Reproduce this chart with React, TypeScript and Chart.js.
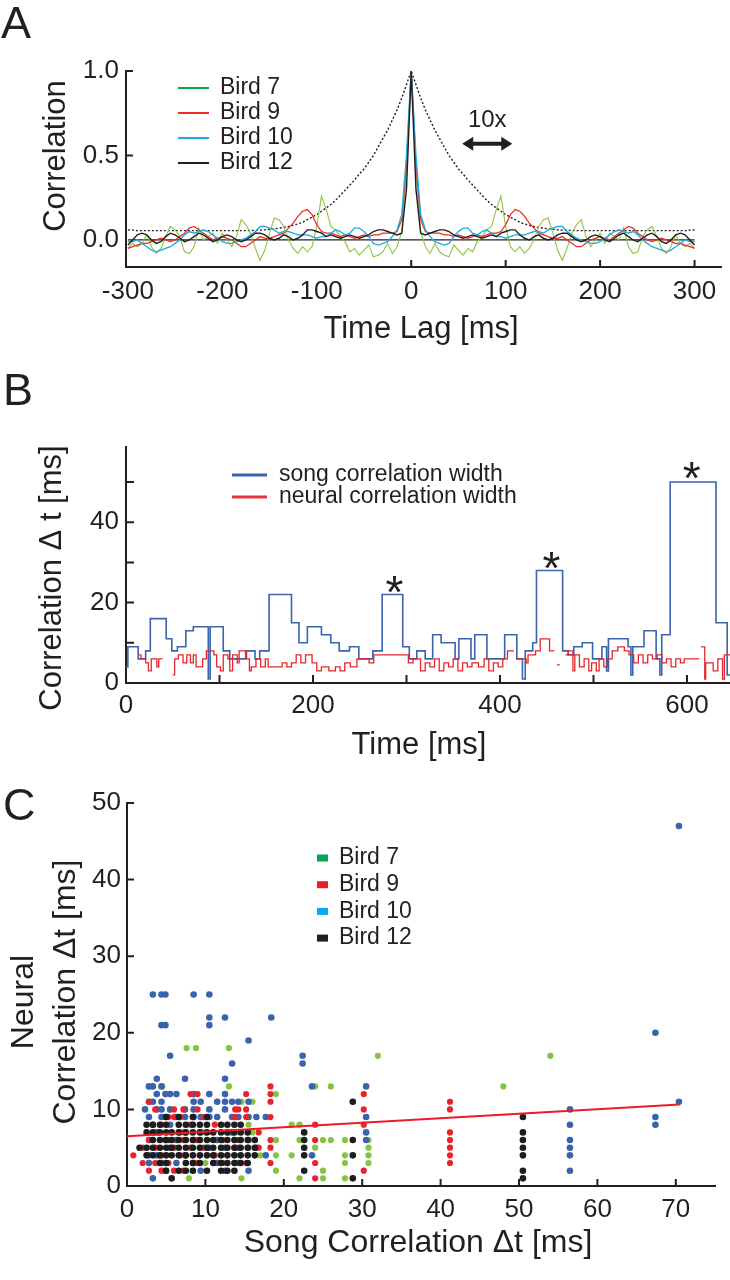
import React, { useEffect, useRef } from 'react';
import { Chart, registerables } from 'chart.js';

Chart.register(...registerables);

const FONT = '"Liberation Sans", Arial, Helvetica, sans-serif';
const INK = '#231f20';

// ---------------- Panel A : autocorrelation (symmetric, positive lags read) ----------------
const LAGS = [0, 5, 10, 15, 20, 25, 30, 35, 40, 45, 50, 55, 60, 65, 70, 75, 80, 85, 90, 95,
  100, 105, 110, 115, 120, 125, 130, 135, 140, 145, 150, 155, 160, 165, 170, 175, 180, 185, 190, 195,
  200, 205, 210, 215, 220, 225, 230, 235, 240, 245, 250, 255, 260, 265, 270, 275, 280, 285, 290, 295, 300];

const BIRD7_ACF = [1.0, 0.4, 0.05, -0.04, -0.08, -0.02, -0.07, -0.09, -0.10, -0.03,
  -0.06, -0.09, -0.05, -0.07, -0.01, 0.02, 0.06, 0.08, 0.18, 0.26,
  0.08, -0.04, -0.07, -0.04, -0.08, -0.05, 0.0, 0.08, 0.12, 0.13,
  0.04, -0.06, -0.12, -0.05, 0.04, 0.09, 0.12, 0.02, -0.04, 0.0,
  0.04, -0.02, 0.04, 0.02, 0.0, 0.07, -0.04, -0.08, -0.07, 0.02,
  0.06, 0.08, 0.02, -0.05, -0.08, -0.04, 0.03, -0.02, -0.04, -0.02,
  -0.05];

const BIRD9_ACF = [1.0, 0.45, 0.12, 0.05, 0.04, 0.04, 0.04, 0.03, 0.03, 0.02,
  0.03, 0.02, 0.01, 0.02, 0.03, 0.02, 0.03, 0.04, 0.04, 0.05,
  0.09, 0.15, 0.18, 0.17, 0.14, 0.10, 0.07, 0.04, 0.03, 0.02,
  0.01, 0.01, 0.02, 0.0, -0.02, -0.04, -0.04, -0.02, 0.0, 0.01,
  0.02, 0.01, 0.0, 0.02, 0.04, 0.06, 0.08, 0.07, 0.04, 0.02,
  0.0, -0.01, 0.0, 0.01, 0.0, -0.01, -0.02, -0.02, -0.03, -0.04,
  -0.05];

const BIRD10_ACF = [1.0, 0.5, 0.15, 0.06, 0.02, -0.01, -0.02, -0.03, -0.02, 0.02,
  0.05, 0.07, 0.07, 0.04, 0.03, 0.05, 0.06, 0.04, 0.02, 0.02,
  0.01, 0.02, 0.03, 0.03, 0.03, 0.04, 0.05, 0.05, 0.04, 0.06,
  0.07, 0.08, 0.08, 0.05, 0.03, 0.01, 0.0, -0.01, -0.02, -0.02,
  -0.01, 0.01, 0.03, 0.05, 0.06, 0.05, 0.04, 0.05, 0.03, 0.0,
  -0.02, -0.04, -0.05, -0.06, -0.07, -0.06, -0.04, -0.02, 0.0, -0.01,
  -0.01];

const BIRD12_ACF = [1.0, 0.3, 0.04, 0.03, 0.04, 0.05, 0.06, 0.06, 0.05, 0.03,
  0.02, 0.01, 0.02, 0.03, 0.02, 0.01, 0.02, 0.03, 0.02, 0.04,
  0.05, 0.06, 0.06, 0.03, 0.01, 0.0, 0.02, 0.03, 0.01, 0.0,
  0.01, 0.03, 0.04, 0.04, 0.02, 0.0, -0.01, 0.0, 0.02, 0.03,
  0.02, 0.0, -0.01, 0.01, 0.03, 0.04, 0.02, 0.0, -0.01, 0.01,
  0.03, 0.04, 0.02, -0.01, -0.02, 0.0, 0.03, 0.04, 0.03, 0.0,
  -0.03];

// Bird 12 trace stretched 10x in time (dotted)
const BIRD12_STRETCHED = [1.0, 0.92, 0.84, 0.77, 0.71, 0.65, 0.60, 0.55, 0.50, 0.46,
  0.42, 0.39, 0.355, 0.325, 0.295, 0.265, 0.235, 0.21, 0.19, 0.17,
  0.15, 0.135, 0.12, 0.105, 0.095, 0.087, 0.08, 0.074, 0.07, 0.066,
  0.063, 0.06, 0.058, 0.057, 0.056, 0.055, 0.055, 0.055, 0.055, 0.055,
  0.055, 0.055, 0.055, 0.055, 0.055, 0.055, 0.055, 0.055, 0.055, 0.055,
  0.055, 0.055, 0.055, 0.055, 0.055, 0.055, 0.055, 0.055, 0.055, 0.058,
  0.06];

const ZERO_LINE_X = [-300, 300];
const A_X_TICKS = [-300, -200, -100, 0, 100, 200, 300];
const A_X_MARKS = [0, 100, 200, 300];
const A_Y_TICKS = [0, 0.5, 1.0];
const A_Y_MARKS = [0.5, 1.0];
const A_LEGEND = ['Bird 7', 'Bird 9', 'Bird 10', 'Bird 12'];
const ARROW_SPAN = [54, 107];
const ARROW_LEVEL = 0.57;

// ---------------- Panel B : step traces [start time ms, width ms] ----------------
const SONG_STEPS: [number, number][] = [
  [0, 4], [2, 9], [13, 6], [21, 8], [26, 16], [43, 11], [49, 8], [55, 9], [64, 13], [72, 14],
  [88, 1], [90, 14], [104, 8], [111, 6], [128, 8], [138, 6], [143, 8], [153, 22], [177, 15], [185, 10],
  [194, 14], [209, 12], [219, 10], [228, 8], [239, 9], [249, 6], [264, 8], [274, 22], [296, 9], [303, 6],
  [311, 8], [320, 6], [328, 12], [337, 10], [352, 6], [356, 11], [369, 6], [373, 12], [386, 6], [405, 12],
  [418, 6], [424, 1], [427, 8], [435, 10], [439, 28], [467, 8], [473, 7], [479, 9], [488, 10], [499, 6],
  [509, 9], [514, 3], [516, 11], [524, 11], [537, 9], [540, 2], [542, 9], [554, 13], [567, 6], [571, 2],
  [573, 12], [582, 50], [631, 15], [643, 2], [647, 2]];

const NEURAL_STEPS: [number, number | null][] = [
  [14, 7], [16, 6], [21, 5], [24, 3], [27, 6], [33, 4], [35, 6], [39, null], [50, 2], [52, 6],
  [56, 7], [61, 5], [65, 7], [69, 5], [72, 7], [75, 4], [82, 6], [86, 8], [94, 7], [97, 4],
  [101, 3], [104, 7], [109, 6], [111, 3], [114, 7], [119, 5], [121, 8], [129, 6], [132, 3], [134, 4],
  [139, 6], [144, 4], [149, 6], [152, 4], [167, 5], [172, 4], [177, 5], [182, 7], [187, 5], [192, 7],
  [199, 5], [204, 3], [209, 4], [217, 3], [224, 4], [229, 3], [234, 5], [240, 4], [247, 6], [260, 5],
  [265, 7], [292, 7], [302, 5], [307, 6], [315, 3], [320, 5], [325, 4], [330, 6], [335, 3], [340, 5],
  [345, 4], [350, 6], [355, 3], [360, 5], [365, 4], [370, 5], [377, 4], [383, 6], [388, 3], [393, 5],
  [398, 4], [403, 6], [408, 8], [415, null], [418, 6], [428, 5], [430, 7], [438, 8], [443, 11], [453, 8],
  [458, null], [461, 4.5], [464, null], [470, 7], [473, 8], [478, 3], [480, 7], [485, 4], [490, 6], [495, 3],
  [498, 5], [503, 3], [506, 6], [511, 4], [515, 6], [520, 8], [526, 9], [533, 8], [538, 7], [543, 5],
  [548, 7], [553, 5], [558, 7], [563, 6], [568, 7], [573, 5], [578, 6], [583, 4], [588, 6], [593, 5],
  [597, 6], [613, null], [615, 9], [619, 1], [620, 5], [628, 3], [633, 6], [638, 1], [640, 7], [647, 7]];

const ASTERISK_T = [287, 455, 605];
const ASTERISK_W = [25.2, 31.2, 53.4];
const B_X_TICKS = [0, 100, 200, 300, 400, 500, 600];
const B_X_MARKS = [100, 200, 300, 400, 500, 600];
const B_Y_TICKS = [0, 10, 20, 30, 40, 50];
const B_Y_MARKS = [10, 20, 30, 40, 50];
const B_LEGEND = ['song correlation width', 'neural correlation width'];

// ---------------- Panel C : scatter columns [song Δt, neural Δt values] ----------------
const BIRD7_COLS: [number, number[]][] = [
  [3.2, [13]], [4.5, [13, 4]], [5.5, [10]], [7.6, [18]], [7.9, [1]], [8.8, [18]], [10.0, [7, 3]],
  [11.5, [6, 3]], [13.0, [18, 13, 7]], [14.6, [11, 1]], [15.5, [8, 5]], [16.0, [11, 7]], [17.0, [4]],
  [19.0, [12, 6, 4, 2]], [21.0, [8, 4]], [22.0, [8, 6, 1]], [24.0, [13, 5]], [25.0, [6, 2, 1]],
  [26.0, [13, 6]], [27.8, [6, 4, 3, 1]], [30.8, [6, 5, 4, 3]], [32.0, [17]], [48.0, [13]], [54.0, [17]]];

const BIRD9_COLS: [number, number[]][] = [
  [0.8, [4]], [2.0, [5, 3]], [2.8, [11, 6, 2]], [3.6, [10, 5, 3]], [4.4, [8, 4, 2]], [5.3, [9, 6, 3]],
  [6.0, [10, 9, 5, 2]], [6.8, [9, 7, 4]], [7.2, [10, 6, 2]], [8.1, [12, 8, 5]], [9.0, [12, 10, 6, 3]],
  [9.8, [9, 5]], [11.2, [8, 4]], [12.2, [6, 3]], [13.8, [10, 9, 5]], [14.2, [10, 6]], [15.2, [12, 10, 9, 3]],
  [16.8, [7, 5]], [18.3, [13, 12, 11, 9, 6, 5, 3]], [24.0, [8, 6, 3, 1]], [30.2, [12, 10, 8, 2]],
  [41.2, [11, 10, 7, 6, 5, 4, 3]]];

const BIRD10_COLS: [number, number[]][] = [
  [2.3, [10]], [2.8, [13, 11, 9, 6, 4, 3]], [3.3, [25, 13, 11, 8, 1]], [3.8, [14, 12, 10, 7, 4]],
  [4.4, [25, 21, 13, 11, 10, 9, 3]], [4.9, [25, 21, 12, 9, 6, 2]], [5.5, [17, 12, 10, 8, 5]],
  [6.3, [12, 9, 6, 3]], [7.4, [14, 10, 9, 7, 4]], [8.5, [25, 12, 11, 10, 9, 6, 3]], [9.4, [11, 9, 7, 2]],
  [10.5, [25, 22, 21, 12, 10, 9, 5]], [11.5, [11, 9, 6, 3]], [12.5, [22, 14, 12, 11, 10, 5, 2]],
  [13.4, [16, 11, 9, 7]], [14.2, [11, 9, 5, 3]], [15.5, [19, 11, 9, 6, 2]], [16.5, [9, 5]], [17.7, [9, 4]],
  [18.4, [22]], [22.4, [17, 16]], [23.6, [13, 4]], [30.5, [13, 9, 7, 6]], [56.5, [10, 8, 6, 5, 4, 2]],
  [67.4, [20, 9, 8]], [70.4, [47, 11]]];

const BIRD12_COLS: [number, number[]][] = [
  [1.6, [5]], [2.5, [8, 7, 5, 4]], [3.3, [8, 7, 6, 5, 4]], [4.2, [8, 7, 6, 5, 4, 3]],
  [5.0, [9, 8, 7, 6, 5, 4, 3, 2]], [5.7, [7, 6, 5, 4, 1]], [6.6, [9, 8, 7, 6, 5, 4, 2]],
  [7.5, [8, 7, 6, 5, 4, 3, 2]], [8.4, [9, 8, 7, 6, 5, 4, 3, 2]], [9.3, [8, 7, 6, 5, 4, 3]],
  [10.2, [9, 8, 7, 6, 5, 4, 2]], [11.0, [7, 6, 5, 4, 3]], [12.0, [8, 7, 6, 5, 4, 3, 2]],
  [12.8, [8, 7, 6, 5, 4, 3, 2]], [13.7, [8, 7, 6, 5, 4, 3, 2]], [14.5, [8, 7, 6, 5, 4, 3]],
  [15.4, [7, 6, 5, 4, 3]], [16.3, [6, 5, 4]], [22.6, [7, 6, 5, 4, 2]], [28.8, [11, 6, 4, 1]],
  [50.5, [9, 7, 6, 5, 4, 2, 1]]];

const REGRESSION: [number, number][] = [[0, 6.5], [70.5, 10.65]];
const C_X_TICKS = [0, 10, 20, 30, 40, 50, 60, 70];
const C_X_MARKS = [10, 20, 30, 40, 50, 60, 70];
const C_Y_TICKS = [0, 10, 20, 30, 40, 50];
const C_Y_MARKS = [10, 20, 30, 40, 50];
const C_LEGEND = ['Bird 7', 'Bird 9', 'Bird 10', 'Bird 12'];

// ---------------- helpers ----------------
const mirror = (vals: number[]) => {
  const pts: { x: number; y: number }[] = [];
  for (let i = LAGS.length - 1; i > 0; i--) pts.push({ x: -LAGS[i], y: vals[i] });
  for (let i = 0; i < LAGS.length; i++) pts.push({ x: LAGS[i], y: vals[i] });
  return pts;
};

// each value holds from its start time until the next start time
const steps = (pairs: [number, number | null][]) => {
  const pts: { x: number; y: number | null }[] = [];
  pairs.forEach(([t, v], i) => {
    if (v === null && i > 0 && pairs[i - 1][1] !== null) pts.push({ x: t, y: pairs[i - 1][1] });
    pts.push({ x: t, y: v });
  });
  return pts;
};

const cols = (c: [number, number[]][]) => {
  const pts: { x: number; y: number }[] = [];
  c.forEach(([x, ys]) => ys.forEach((y) => pts.push({ x, y })));
  return pts;
};

type Txt = { s: string; x: number; y: number; size: number; align?: CanvasTextAlign; base?: CanvasTextBaseline; rot?: number };

const drawText = (ctx: CanvasRenderingContext2D, t: Txt) => {
  ctx.save();
  ctx.translate(t.x, t.y);
  if (t.rot) ctx.rotate(t.rot);
  ctx.font = `${t.size}px ${FONT}`;
  ctx.fillStyle = INK;
  ctx.textAlign = t.align || 'left';
  ctx.textBaseline = t.base || 'middle';
  ctx.fillText(t.s, 0, 0);
  ctx.restore();
};

const makeOverlay = (cfg: {
  xMarks: number[]; yMarks: number[]; tickLen: number; texts: Txt[];
  draw?: (chart: any, ctx: CanvasRenderingContext2D) => void;
}) => ({
  id: 'overlay',
  afterDraw(chart: any) {
    const ctx = chart.ctx as CanvasRenderingContext2D;
    const { left, bottom } = chart.chartArea;
    const xs = chart.scales.x;
    const ys = chart.scales.y;
    ctx.save();
    ctx.strokeStyle = INK;
    ctx.lineWidth = 2;
    ctx.beginPath();
    cfg.xMarks.forEach((v) => {
      const p = xs.getPixelForValue(v);
      ctx.moveTo(p, bottom);
      ctx.lineTo(p, bottom - cfg.tickLen);
    });
    cfg.yMarks.forEach((v) => {
      const p = ys.getPixelForValue(v);
      ctx.moveTo(left, p);
      ctx.lineTo(left + cfg.tickLen, p);
    });
    ctx.stroke();
    cfg.texts.forEach((t) => drawText(ctx, t));
    if (cfg.draw) cfg.draw(chart, ctx);
    ctx.restore();
  },
});

const axisX = (min: number, max: number, ticks: number[], height: number, label: (v: number) => string, pad: number) => ({
  type: 'linear' as const,
  position: 'bottom' as const,
  min, max,
  afterBuildTicks: (s: any) => { s.ticks = ticks.map((value) => ({ value })); },
  afterFit: (s: any) => { s.height = height; },
  grid: { display: false, drawTicks: false },
  border: { display: true, color: INK, width: 2 },
  ticks: { autoSkip: false, maxRotation: 0, padding: pad, color: INK, font: { family: FONT, size: 26 }, callback: (v: any) => label(Number(v)) },
});

const axisY = (min: number, max: number, ticks: number[], width: number, label: (v: number) => string, pad: number) => ({
  type: 'linear' as const,
  position: 'left' as const,
  min, max,
  afterBuildTicks: (s: any) => { s.ticks = ticks.map((value) => ({ value })); },
  afterFit: (s: any) => { s.width = width; },
  grid: { display: false, drawTicks: false },
  border: { display: true, color: INK, width: 2 },
  ticks: { autoSkip: false, padding: pad, color: INK, font: { family: FONT, size: 26 }, callback: (v: any) => label(Number(v)) },
});

// canvas geometry
const A_H = 350;
const B_H = 415;
const C_H = 515;

const configA = (): any => {
  const colors = ['#00a651', '#ee2e24', '#27aae1', INK];
  return {
    type: 'line',
    data: {
      datasets: [
        { label: 'Bird 12', data: mirror(BIRD12_ACF), borderColor: INK, borderWidth: 1.4, pointRadius: 0, order: 0 },
        { label: 'Bird 10', data: mirror(BIRD10_ACF), borderColor: '#27aae1', borderWidth: 1.4, pointRadius: 0, order: 1 },
        { label: 'Bird 9', data: mirror(BIRD9_ACF), borderColor: '#ee2e24', borderWidth: 1.3, pointRadius: 0, order: 2 },
        { label: 'Bird 7', data: mirror(BIRD7_ACF), borderColor: '#8cc63f', borderWidth: 1.1, pointRadius: 0, order: 3 },
        { label: '10x', data: mirror(BIRD12_STRETCHED), borderColor: INK, borderWidth: 1.4, borderDash: [2, 2], pointRadius: 0, order: 4 },
        { label: 'zero', data: ZERO_LINE_X.map((x) => ({ x, y: 0 })), borderColor: INK, borderWidth: 1.2, pointRadius: 0, order: 5 },
      ],
    },
    options: {
      responsive: false, animation: false, devicePixelRatio: 1,
      layout: { padding: { top: 71, right: 9, left: 0, bottom: 0 } },
      plugins: { legend: { display: false }, tooltip: { enabled: false } },
      scales: {
        x: axisX(-302, 328, A_X_TICKS, A_H - 267, (v) => String(v), 9),
        y: axisY(-0.16, 1.0, A_Y_TICKS, 126, (v) => v.toFixed(1), 7),
      },
    },
    plugins: [makeOverlay({
      xMarks: A_X_MARKS, yMarks: A_Y_MARKS, tickLen: 7,
      texts: [
        { s: 'A', x: 1, y: 38, size: 45, base: 'alphabetic' },
        { s: 'Correlation', x: 56, y: 156, size: 31, align: 'center', rot: -Math.PI / 2 },
        { s: 'Time Lag [ms]', x: 421, y: 329, size: 31, align: 'center' },
      ],
      draw: (chart, ctx) => {
        A_LEGEND.forEach((name, i) => {
          const y = 88 + i * 25;
          ctx.strokeStyle = colors[i];
          ctx.lineWidth = 2;
          ctx.beginPath();
          ctx.moveTo(178, y);
          ctx.lineTo(209, y);
          ctx.stroke();
          drawText(ctx, { s: name, x: 220, y, size: 23 });
        });
        const xs = chart.scales.x;
        const ys = chart.scales.y;
        const x1 = xs.getPixelForValue(ARROW_SPAN[0]);
        const x2 = xs.getPixelForValue(ARROW_SPAN[1]);
        const y = ys.getPixelForValue(ARROW_LEVEL);
        ctx.fillStyle = INK;
        ctx.strokeStyle = INK;
        ctx.lineWidth = 4;
        ctx.beginPath();
        ctx.moveTo(x1 + 8, y);
        ctx.lineTo(x2 - 8, y);
        ctx.stroke();
        ctx.beginPath();
        ctx.moveTo(x1, y); ctx.lineTo(x1 + 11, y - 7); ctx.lineTo(x1 + 11, y + 7); ctx.closePath();
        ctx.moveTo(x2, y); ctx.lineTo(x2 - 11, y - 7); ctx.lineTo(x2 - 11, y + 7); ctx.closePath();
        ctx.fill();
        drawText(ctx, { s: '10x', x: (x1 + x2) / 2, y: ys.getPixelForValue(0.71), size: 24, align: 'center' });
      },
    })],
  };
};

const configB = (): any => ({
  type: 'line',
  data: {
    datasets: [
      { label: 'neural correlation width', data: steps(NEURAL_STEPS), stepped: 'before', borderColor: '#e5262b', borderWidth: 1.3, pointRadius: 0, spanGaps: false, order: 0 },
      { label: 'song correlation width', data: steps(SONG_STEPS), stepped: 'before', borderColor: '#3b64ad', borderWidth: 1.6, pointRadius: 0, order: 1 },
    ],
  },
  options: {
    responsive: false, animation: false, devicePixelRatio: 1,
    layout: { padding: { top: 97, right: 0, left: 0, bottom: 0 } },
    plugins: { legend: { display: false }, tooltip: { enabled: false } },
    scales: {
      x: axisX(0, 646, B_X_TICKS, B_H - 333, (v) => (v % 200 === 0 ? String(v) : ''), 7),
      y: axisY(0, 58.7, B_Y_TICKS, 126, (v) => (v % 20 === 0 ? String(v) : ''), 7),
    },
  },
  plugins: [makeOverlay({
    xMarks: B_X_MARKS, yMarks: B_Y_MARKS, tickLen: 8,
    texts: [
      { s: 'B', x: 3, y: 55, size: 45, base: 'alphabetic' },
      { s: 'Correlation \u0394 t [ms]', x: 52, y: 228, size: 31, align: 'center', rot: -Math.PI / 2 },
      { s: 'Time [ms]', x: 419, y: 395, size: 31, align: 'center' },
    ],
    draw: (chart, ctx) => {
      const colors = ['#3b64ad', '#e8343a'];
      B_LEGEND.forEach((name, i) => {
        const y = 125 + i * 22;
        ctx.strokeStyle = colors[i];
        ctx.lineWidth = 3;
        ctx.beginPath();
        ctx.moveTo(232, y);
        ctx.lineTo(267, y);
        ctx.stroke();
        drawText(ctx, { s: name, x: 279, y, size: 23 });
      });
      const xs = chart.scales.x;
      const ys = chart.scales.y;
      ASTERISK_T.forEach((t, i) => {
        drawText(ctx, { s: '*', x: xs.getPixelForValue(t), y: ys.getPixelForValue(ASTERISK_W[i]) + 26, size: 46, align: 'center', base: 'alphabetic' });
      });
    },
  })],
});

const configC = (): any => ({
  type: 'scatter',
  data: {
    datasets: [
      { type: 'line', label: 'fit', data: REGRESSION.map(([x, y]) => ({ x, y })), borderColor: '#ec1c24', borderWidth: 2, pointRadius: 0, order: -1 },
      { label: 'Bird 12', data: cols(BIRD12_COLS), backgroundColor: '#1d1d1d', pointRadius: 3.3, borderWidth: 0, order: 0 },
      { label: 'Bird 9', data: cols(BIRD9_COLS), backgroundColor: '#e8232a', pointRadius: 3.1, borderWidth: 0, order: 1 },
      { label: 'Bird 10', data: cols(BIRD10_COLS), backgroundColor: '#3a63ad', pointRadius: 3.3, borderWidth: 0, order: 2 },
      { label: 'Bird 7', data: cols(BIRD7_COLS), backgroundColor: '#84c441', pointRadius: 3.1, borderWidth: 0, order: 3 },
    ],
  },
  options: {
    responsive: false, animation: false, devicePixelRatio: 1,
    layout: { padding: { top: 38, right: 15, left: 0, bottom: 0 } },
    plugins: { legend: { display: false }, tooltip: { enabled: false } },
    scales: {
      x: axisX(0, 75, C_X_TICKS, C_H - 421, (v) => String(v), 8),
      y: axisY(0, 50, C_Y_TICKS, 127, (v) => String(v), 6),
    },
  },
  plugins: [makeOverlay({
    xMarks: C_X_MARKS, yMarks: C_Y_MARKS, tickLen: 7,
    texts: [
      { s: 'C', x: 3, y: 55, size: 45, base: 'alphabetic' },
      { s: 'Neural', x: 24, y: 237, size: 32, align: 'center', rot: -Math.PI / 2 },
      { s: 'Correlation \u0394t [ms]', x: 66, y: 227, size: 32, align: 'center', rot: -Math.PI / 2 },
      { s: 'Song Correlation \u0394t [ms]', x: 418, y: 478, size: 32, align: 'center' },
    ],
    draw: (chart, ctx) => {
      const colors = ['#00a651', '#ed1c24', '#00aeef', INK];
      C_LEGEND.forEach((name, i) => {
        const y = 93 + i * 26.7;
        ctx.fillStyle = colors[i];
        ctx.fillRect(317, y - 3.5, 11, 7);
        drawText(ctx, { s: name, x: 339, y, size: 23 });
      });
    },
  })],
});

export default function App() {
  const aRef = useRef<HTMLCanvasElement>(null);
  const bRef = useRef<HTMLCanvasElement>(null);
  const cRef = useRef<HTMLCanvasElement>(null);

  useEffect(() => {
    const charts = [
      new Chart(aRef.current as HTMLCanvasElement, configA()),
      new Chart(bRef.current as HTMLCanvasElement, configB()),
      new Chart(cRef.current as HTMLCanvasElement, configC()),
    ];
    return () => charts.forEach((c) => c.destroy());
  }, []);

  return (
    <div style={{ position: 'absolute', left: 0, top: 0, width: 730, height: 1280, background: '#ffffff' }}>
      <canvas ref={aRef} width={730} height={A_H} style={{ position: 'absolute', left: 0, top: 0 }} />
      <canvas ref={bRef} width={730} height={B_H} style={{ position: 'absolute', left: 0, top: 350 }} />
      <canvas ref={cRef} width={730} height={C_H} style={{ position: 'absolute', left: 0, top: 765 }} />
    </div>
  );
}
